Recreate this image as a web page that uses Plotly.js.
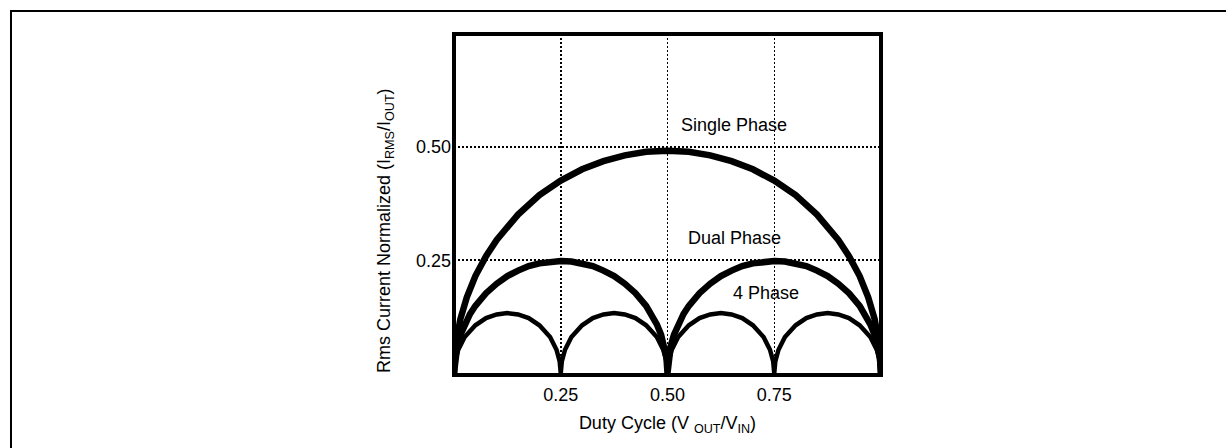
<!DOCTYPE html>
<html>
<head>
<meta charset="utf-8">
<script src="https://cdn.plot.ly/plotly-3.0.1.min.js"></script>
<style>
  html, body { margin: 0; padding: 0; background: #fff; }
  #frame { position: absolute; left: 10px; top: 10px; width: 2000px; height: 2000px;
           border-left: 2px solid #000; border-top: 2px solid #000; }
  #chart { position: absolute; left: 0; top: 0; width: 1226px; height: 448px; }
</style>
</head>
<body>
<div id="frame"></div>
<div id="chart"></div>
<script>
// Duty cycle values and normalized RMS current
const singleD = [0,0.005,0.015,0.03,0.05,0.075,0.1,0.15,0.2,0.25,0.3,0.35,0.4,0.45,0.5,0.55,0.6,0.65,0.7,0.75,0.8,0.85,0.9,0.925,0.95,0.97,0.985,0.995,1];
const singleY = [0,0.069,0.12,0.168,0.215,0.259,0.295,0.351,0.394,0.426,0.451,0.469,0.482,0.49,0.492,0.49,0.482,0.469,0.451,0.426,0.394,0.351,0.295,0.259,0.215,0.168,0.12,0.069,0];

const dualD = [0,0.0025,0.0075,0.015,0.025,0.0375,0.05,0.075,0.1,0.125,0.15,0.175,0.2,0.225,0.25,0.275,0.3,0.325,0.35,0.375,0.4,0.425,0.45,0.4625,0.475,0.485,0.4925,0.4975,0.5,
               0.5025,0.5075,0.515,0.525,0.5375,0.55,0.575,0.6,0.625,0.65,0.675,0.7,0.725,0.75,0.775,0.8,0.825,0.85,0.875,0.9,0.925,0.95,0.9625,0.975,0.985,0.9925,0.9975,1];
const dualY = [0,0.035,0.06,0.085,0.108,0.131,0.149,0.177,0.198,0.215,0.227,0.237,0.243,0.247,0.248,0.247,0.243,0.237,0.227,0.215,0.198,0.177,0.149,0.131,0.108,0.085,0.06,0.035,0,
               0.035,0.06,0.085,0.108,0.131,0.149,0.177,0.198,0.215,0.227,0.237,0.243,0.247,0.248,0.247,0.243,0.237,0.227,0.215,0.198,0.177,0.149,0.131,0.108,0.085,0.06,0.035,0];

const quadD = [0,0.0025,0.01,0.025,0.05,0.075,0.1,0.125,0.15,0.175,0.2,0.225,0.24,0.2475,0.25,
               0.2525,0.26,0.275,0.3,0.325,0.35,0.375,0.4,0.425,0.45,0.475,0.49,0.4975,0.5,
               0.5025,0.51,0.525,0.55,0.575,0.6,0.625,0.65,0.675,0.7,0.725,0.74,0.7475,0.75,
               0.7525,0.76,0.775,0.8,0.825,0.85,0.875,0.9,0.925,0.95,0.975,0.99,0.9975,1];
const quadY = [0,0.026,0.052,0.08,0.106,0.122,0.13,0.133,0.13,0.122,0.106,0.08,0.052,0.026,0,
               0.026,0.052,0.08,0.106,0.122,0.13,0.133,0.13,0.122,0.106,0.08,0.052,0.026,0,
               0.026,0.052,0.08,0.106,0.122,0.13,0.133,0.13,0.122,0.106,0.08,0.052,0.026,0,
               0.026,0.052,0.08,0.106,0.122,0.13,0.133,0.13,0.122,0.106,0.08,0.052,0.026,0];

const xTickVals = [0.25, 0.5, 0.75];
const xTickText = ["0.25", "0.50", "0.75"];
const yTickVals = [0.25, 0.5];
const yTickText = ["0.25", "0.50"];

const seriesNames = ["Single Phase", "Dual Phase", "4 Phase"];
const labelX = [0.656, 0.657, 0.731];
const labelY = [0.55, 0.298, 0.178];

const xTitle = "Duty Cycle (V <sub>OUT</sub>/V<sub>IN</sub>)";
const yTitle = "Rms Current Normalized (I<sub>RMS</sub>/I<sub>OUT</sub>)";

const FONT = "Liberation Sans, Arial, Helvetica, sans-serif";
const FS = 18;

const traces = [
  {x: singleD, y: singleY, name: seriesNames[0], mode: "lines", line: {color: "#000", width: 6.5}},
  {x: dualD, y: dualY, name: seriesNames[1], mode: "lines", line: {color: "#000", width: 6.5}},
  {x: quadD, y: quadY, name: seriesNames[2], mode: "lines", line: {color: "#000", width: 4.5}}
];

const layout = {
  width: 1226, height: 448,
  margin: {l: 454, r: 345, t: 34, b: 73, pad: 0},
  paper_bgcolor: "rgba(0,0,0,0)",
  plot_bgcolor: "rgba(0,0,0,0)",
  showlegend: false,
  font: {family: FONT, size: FS, color: "#000"},
  xaxis: {
    range: [0, 1], tickvals: xTickVals, ticktext: xTickText,
    showgrid: true, gridcolor: "#000", gridwidth: 1.5, griddash: "2px,2px",
    zeroline: false, showline: false, ticks: "", ticklabelstandoff: 7,
    tickfont: {family: FONT, size: FS, color: "#000"},
    title: {text: xTitle, standoff: 12, font: {family: FONT, size: FS, color: "#000"}}
  },
  yaxis: {
    range: [-0.004, 0.7504], tickvals: yTickVals, ticktext: yTickText,
    showgrid: true, gridcolor: "#000", gridwidth: 1.5, griddash: "2px,2px",
    zeroline: false, showline: false, ticks: "", ticklabelstandoff: 2,
    tickfont: {family: FONT, size: FS, color: "#000"}
  },
  shapes: [{type: "rect", xref: "paper", yref: "paper", x0: 0, x1: 1, y0: 0, y1: 1,
            line: {color: "#000", width: 4}, layer: "above"}],
  annotations: seriesNames.map((n, i) => ({
    x: labelX[i], y: labelY[i], xref: "x", yref: "y", text: n, showarrow: false,
    font: {family: FONT, size: FS, color: "#000"}
  })).concat([{
    x: -0.1616, y: 0.425, xref: "paper", yref: "paper", text: yTitle, textangle: -90,
    showarrow: false, xanchor: "center", yanchor: "middle",
    font: {family: FONT, size: FS, color: "#000"}
  }])
};

Plotly.newPlot("chart", traces, layout, {displayModeBar: false, staticPlot: true});
</script>
</body>
</html>
